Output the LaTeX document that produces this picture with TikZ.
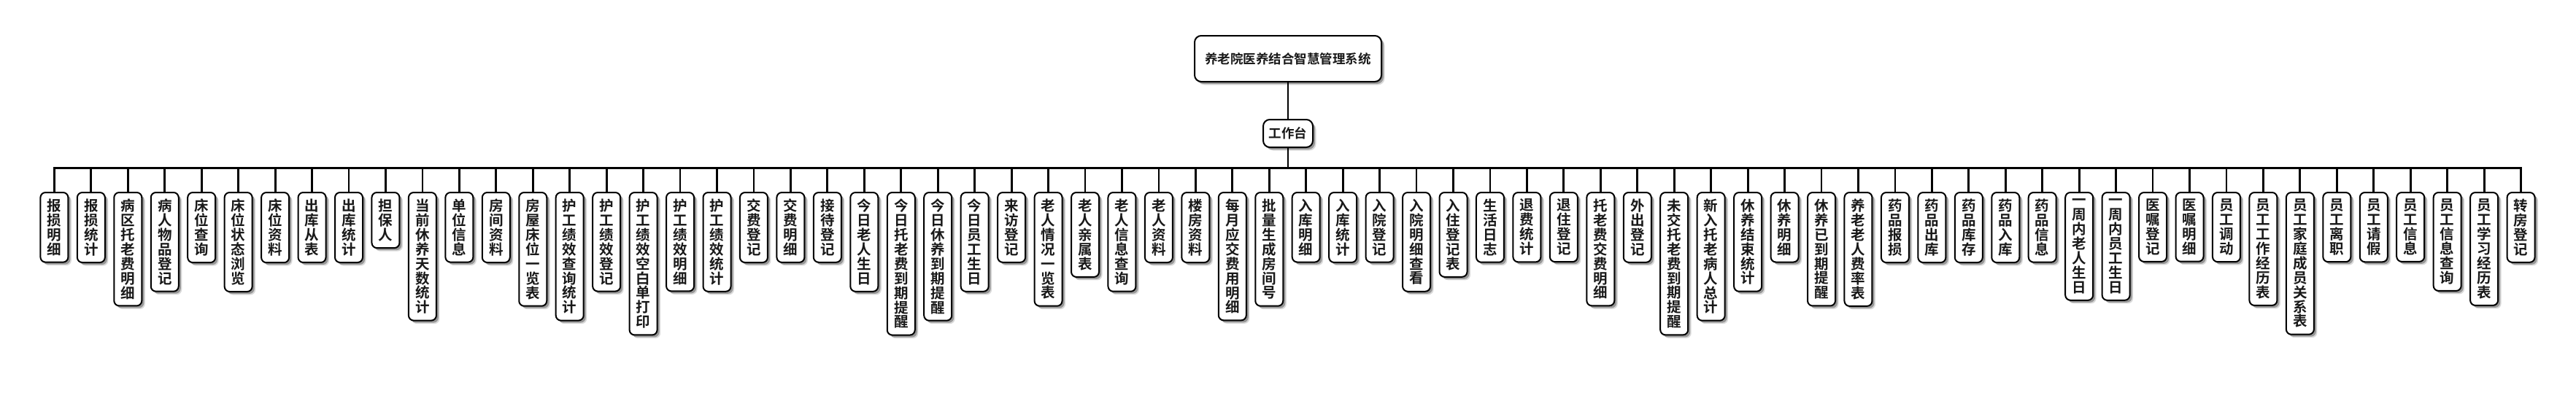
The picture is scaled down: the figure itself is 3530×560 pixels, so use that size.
\documentclass[tikz,border=0pt]{standalone}
\usepackage{fontspec}
\setmainfont{Noto Sans CJK SC}[BoldFont=Noto Sans CJK SC Bold]
\usetikzlibrary{shadows}
\let\vtend\relax
\def\vtgobble#1{}
\def\vt#1{\edef\vttmp{#1}\expandafter\vtA\vttmp\vtend}
\def\vtA#1{#1\vtB}
\def\vtB#1{\ifx\vtend#1\expandafter\vtgobble\else\expandafter\vtC\fi{#1}}
\def\vtC#1{\\#1\vtB}
\tikzset{
  softshadow/.style={
    drop shadow={shadow xshift=4.5pt,shadow yshift=-4.5pt,opacity=.15,fill=black},
    drop shadow={shadow xshift=3pt,shadow yshift=-3pt,opacity=.3,fill=black}},
  topbox/.style={draw=black,line width=2pt,rounded corners=9pt,fill=white,softshadow,
    font=\fontsize{17.5pt}{20pt}\selectfont\bfseries,text=black!90,inner sep=0pt},
  leafbox/.style={draw=black,line width=2pt,rounded corners=7pt,fill=white,softshadow,
    font=\fontsize{19.5pt}{19.9pt}\selectfont\bfseries,text=black!90,align=center,
    minimum width=38pt,inner xsep=0pt,inner ysep=9pt,anchor=north},
  link/.style={line width=2.8pt,black}
}
\begin{document}
\begin{tikzpicture}[x=1pt,y=-1pt]
\useasboundingbox (0,0) rectangle (3530,560);
\node[topbox,minimum width=256pt,minimum height=63pt] (root) at (1765,80.5) {养老院医养结合智慧管理系统};
\node[topbox,minimum width=68pt,minimum height=38pt] (gzt) at (1765,183) {工作台};
\coordinate (bus) at (1765,230.7);
\foreach \t [count=\i] in {报损明细,报损统计,病区托老费明细,病人物品登记,床位查询,床位状态浏览,床位资料,出库从表,出库统计,担保人,当前休养天数统计,单位信息,房间资料,房屋床位一览表,护工绩效查询统计,护工绩效登记,护工绩效空白单打印,护工绩效明细,护工绩效统计,交费登记,交费明细,接待登记,今日老人生日,今日托老费到期提醒,今日休养到期提醒,今日员工生日,来访登记,老人情况一览表,老人亲属表,老人信息查询,老人资料,楼房资料,每月应交费用明细,批量生成房间号,入库明细,入库统计,入院登记,入院明细查看,入住登记表,生活日志,退费统计,退住登记,托老费交费明细,外出登记,未交托老费到期提醒,新入托老病人总计,休养结束统计,休养明细,休养已到期提醒,养老老人费率表,药品报损,药品出库,药品库存,药品入库,药品信息,一周内老人生日,一周内员工生日,医嘱登记,医嘱明细,员工调动,员工工作经历表,员工家庭成员关系表,员工离职,员工请假,员工信息,员工信息查询,员工学习经历表,转房登记}{
  \node[leafbox] (l\i) at ({74.4+(\i-1)*50.45},263) {\vt{\t}};
}
\begin{scope}[on background layer/.style={}]
\draw[link] (root.south) -- (gzt.north);
\draw[link] (gzt.south) -- (gzt.south |- bus);
\draw[link,line cap=rect] (l1.north |- bus) -- (l68.north |- bus);
\foreach \i in {1,...,68}{
  \draw[link] (l\i.north |- bus) -- (l\i.north);
}
\end{scope}
\end{tikzpicture}
\end{document}
